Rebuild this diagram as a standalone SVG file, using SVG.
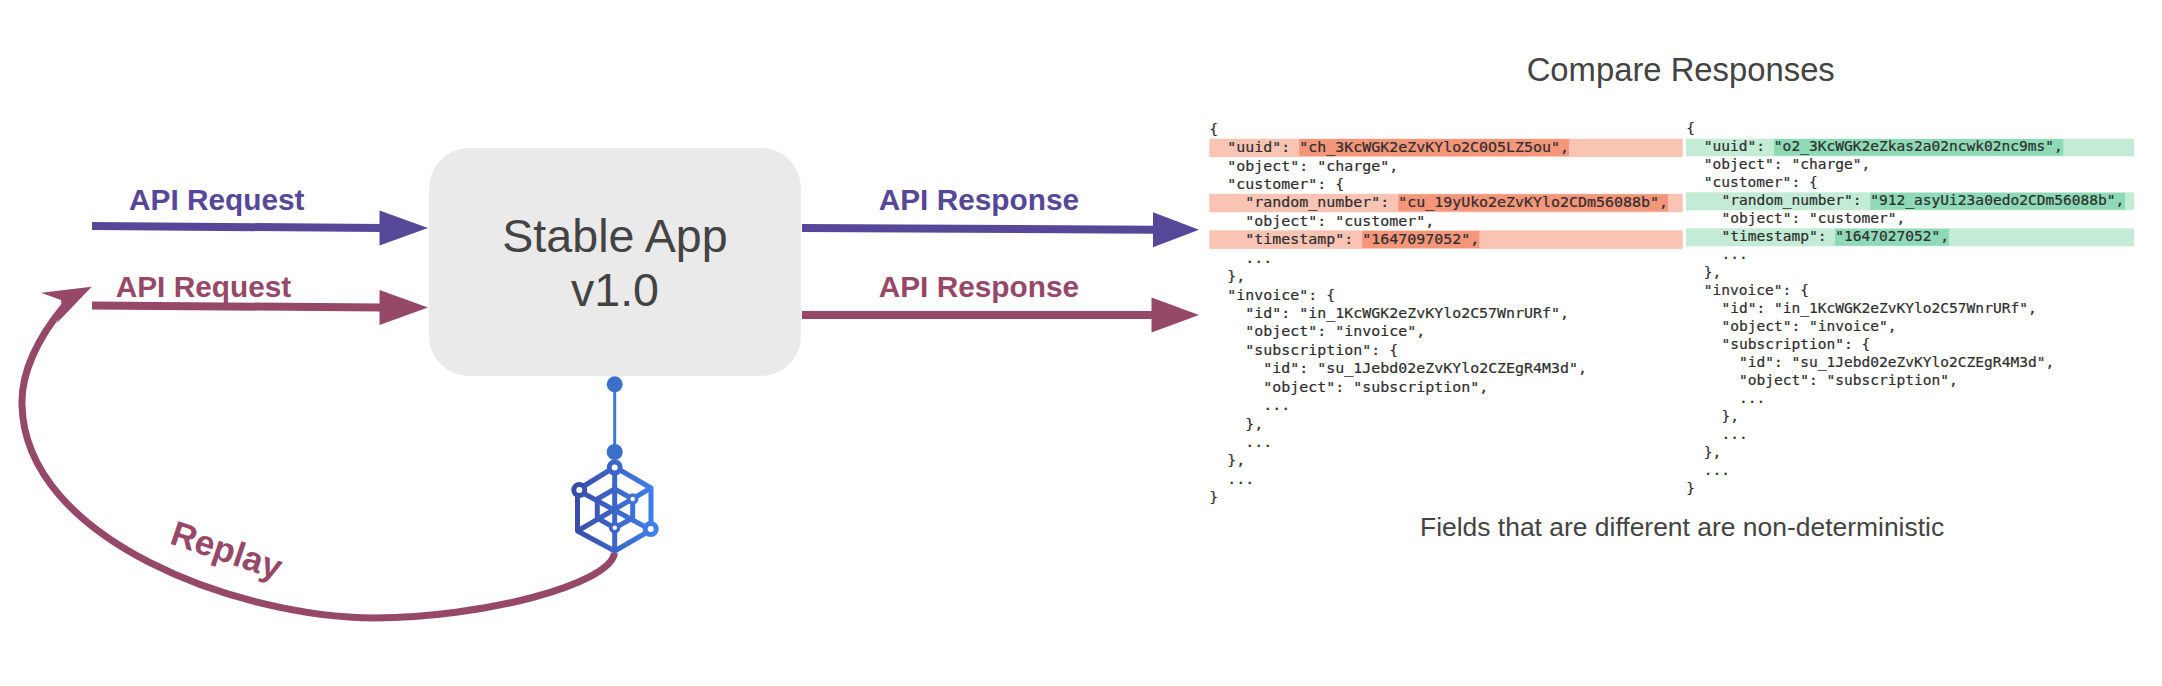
<svg xmlns="http://www.w3.org/2000/svg" width="2162" height="686" viewBox="0 0 2162 686">
<style>
text{font-family:"Liberation Sans",Arial,sans-serif}
.lbl{font-size:29.8px;font-weight:700}
.blue{fill:#574798}.mar{fill:#964869}
.ls{fill:none;stroke-width:8}
.sb{stroke:#574798}.sm{stroke:#964869}
.t{fill:#434343}
.cl text{font-family:"DejaVu Sans Mono","Liberation Mono",monospace;font-size:14.95px;fill:#2e2e2e;stroke:#2e2e2e;stroke-width:.2}
.cr text{font-family:"DejaVu Sans Mono","Liberation Mono",monospace;font-size:14.56px;fill:#2e2e2e;stroke:#2e2e2e;stroke-width:.2}
.rl{fill:#f9c4b4}.rd{fill:#f5957a}.gl{fill:#c3ebd5}.gd{fill:#8ed9b6}
</style>
<defs>
<linearGradient id="lg" gradientUnits="userSpaceOnUse" x1="575" y1="510" x2="655" y2="510">
<stop offset="0" stop-color="#3a4ba6"/><stop offset="1" stop-color="#3f80ea"/>
</linearGradient>
</defs>
<rect width="2162" height="686" fill="#fff"/>

<g id="stable-app">
<rect x="429" y="148" width="372" height="228" rx="40" ry="40" fill="#eaeaea"/>
<text class="t" x="615" y="252" font-size="46.6" text-anchor="middle">Stable App</text>
<text class="t" x="615" y="306" font-size="46.6" text-anchor="middle">v1.0</text>
</g>

<g id="connectors">
<path class="ls sb" d="M92 226 L382 228"/>
<polygon class="blue" points="379.5,210.5 428,228 379.5,245.5"/>
<path class="ls sm" d="M92 305.5 L382 307.5"/>
<polygon class="mar" points="379.5,290 428,307.5 379.5,325"/>
<path class="ls sb" d="M802 228 L1155 229.7"/>
<polygon class="blue" points="1153,212.2 1199,229.7 1153,247.2"/>
<path class="ls sm" d="M802 315 L1153 315"/>
<polygon class="mar" points="1151.5,297.5 1199,315 1151.5,332.5"/>
<path id="replay-curve" class="sm" fill="none" stroke-width="7" d="M614.5 553 C610 585 480 618 375 618 C240 618 25 540 22 405 C21 375 36 340 65 305"/>
<polygon class="mar" points="91.7,286.7 41,292.7 61,300 62,310 56.7,323.3"/>
<path fill="none" stroke="#3d78dc" stroke-width="3" d="M614.7 384 V452"/>
<circle cx="614.7" cy="384.3" r="8" fill="#3a70c9"/>
<circle cx="614.7" cy="452" r="8" fill="#3a70c9"/>
</g>

<g id="labels">
<text class="lbl blue" x="129" y="210">API Request</text>
<text class="lbl mar" x="115.7" y="296.7">API Request</text>
<text class="lbl blue" x="878.7" y="210">API Response</text>
<text class="lbl mar" x="878.7" y="296.7">API Response</text>
<text class="mar" font-size="35" font-weight="700" transform="translate(168.4 543.3) rotate(18.6)">Replay</text>
</g>

<g id="logo" fill="none" stroke="url(#lg)" stroke-width="5" stroke-linejoin="round">
<path d="M614.7 467 L651 488 V530 L614.7 551 L577.5 531 V490 Z"/>
<path d="M614.7 489 L632.7 499 V518 L614.7 528 L597.3 518 V499 Z"/>
<path d="M614.7 467 V551 M577.5 490 L651 530 M577.5 531 L651 488"/>
<g fill="#fff">
<circle cx="614.7" cy="467.5" r="5.5"/>
<circle cx="579.3" cy="490" r="5.5"/>
<circle cx="650.7" cy="529" r="5.5"/>
<circle cx="632.7" cy="499" r="4" stroke-width="3.5"/>
<circle cx="614.7" cy="527.7" r="4" stroke-width="3.5"/>
</g>
</g>

<g id="compare">
<text class="t" x="1526.7" y="80.7" font-size="32.8">Compare Responses</text>
<text class="t" x="1420" y="535.7" font-size="26.45">Fields that are different are non-deterministic</text>
</g>

<g id="response-left" class="cl">
<rect class="rl" x="1209.3" y="138.7" width="473.4" height="18.4"/>
<rect class="rl" x="1209.3" y="193.8" width="473.4" height="18.5"/>
<rect class="rl" x="1209.3" y="230.3" width="473.4" height="18.6"/>
<rect class="rd" x="1299.3" y="139" width="269.7" height="17"/>
<rect class="rd" x="1398.3" y="194.3" width="269.7" height="17"/>
<rect class="rd" x="1362.3" y="231" width="117" height="17"/>
<text x="1209.3" y="133.6">{</text>
<text x="1227.3" y="152">"uuid": "ch_3KcWGK2eZvKYlo2C0O5LZ5ou",</text>
<text x="1227.3" y="170.5">"object": "charge",</text>
<text x="1227.3" y="188.9">"customer": {</text>
<text x="1245.3" y="207.3">"random_number": "cu_19yUko2eZvKYlo2CDm56088b",</text>
<text x="1245.3" y="225.8">"object": "customer",</text>
<text x="1245.3" y="244.2">"timestamp": "1647097052",</text>
<text x="1245.3" y="262.6">...</text>
<text x="1227.3" y="281">},</text>
<text x="1227.3" y="299.5">"invoice": {</text>
<text x="1245.3" y="317.9">"id": "in_1KcWGK2eZvKYlo2C57WnrURf",</text>
<text x="1245.3" y="336.3">"object": "invoice",</text>
<text x="1245.3" y="354.8">"subscription": {</text>
<text x="1263.3" y="373.2">"id": "su_1Jebd02eZvKYlo2CZEgR4M3d",</text>
<text x="1263.3" y="391.6">"object": "subscription",</text>
<text x="1263.3" y="410.1">...</text>
<text x="1245.3" y="428.5">},</text>
<text x="1245.3" y="446.9">...</text>
<text x="1227.3" y="465.3">},</text>
<text x="1227.3" y="483.8">...</text>
<text x="1209.3" y="502.2">}</text>
</g>

<g id="response-right" class="cr">
<rect class="gl" x="1686" y="138.7" width="448" height="17.6"/>
<rect class="gl" x="1686" y="192.3" width="448" height="18"/>
<rect class="gl" x="1686" y="228.3" width="448" height="18"/>
<rect class="gd" x="1774" y="139" width="289.3" height="16.6"/>
<rect class="gd" x="1870.3" y="192.8" width="254.7" height="16.8"/>
<rect class="gd" x="1835" y="228.8" width="114" height="16.8"/>
<text x="1686.3" y="133.3">{</text>
<text x="1703.8" y="151.3">"uuid": "o2_3KcWGK2eZkas2a02ncwk02nc9ms",</text>
<text x="1703.8" y="169.2">"object": "charge",</text>
<text x="1703.8" y="187.2">"customer": {</text>
<text x="1721.4" y="205.1">"random_number": "912_asyUi23a0edo2CDm56088b",</text>
<text x="1721.4" y="223.1">"object": "customer",</text>
<text x="1721.4" y="241.1">"timestamp": "1647027052",</text>
<text x="1721.4" y="259">...</text>
<text x="1703.8" y="277">},</text>
<text x="1703.8" y="294.9">"invoice": {</text>
<text x="1721.4" y="312.9">"id": "in_1KcWGK2eZvKYlo2C57WnrURf",</text>
<text x="1721.4" y="330.9">"object": "invoice",</text>
<text x="1721.4" y="348.8">"subscription": {</text>
<text x="1738.9" y="366.8">"id": "su_1Jebd02eZvKYlo2CZEgR4M3d",</text>
<text x="1738.9" y="384.7">"object": "subscription",</text>
<text x="1738.9" y="402.7">...</text>
<text x="1721.4" y="420.7">},</text>
<text x="1721.4" y="438.6">...</text>
<text x="1703.8" y="456.6">},</text>
<text x="1703.8" y="474.5">...</text>
<text x="1686.3" y="492.5">}</text>
</g>
</svg>
